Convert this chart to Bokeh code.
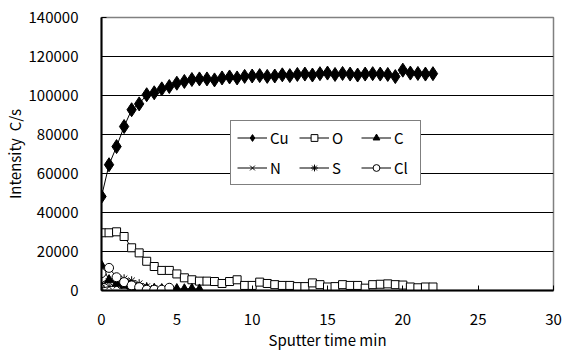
from bokeh.plotting import figure
from bokeh.models import SingleIntervalTicker, NumeralTickFormatter, Legend, LegendItem
from bokeh.embed import file_html
from bokeh.resources import INLINE

# Sputter depth profile: intensity (counts/s) vs. sputter time (min)
time_cu_o = [0, 0.5, 1, 1.5, 2, 2.5, 3, 3.5, 4, 4.5, 5, 5.5, 6, 6.5, 7, 7.5,
             8, 8.5, 9, 9.5, 10, 10.5, 11, 11.5, 12, 12.5, 13, 13.5, 14, 14.5,
             15, 15.5, 16, 16.5, 17, 17.5, 18, 18.5, 19, 19.5, 20, 20.5, 21,
             21.5, 22]
cu = [48200, 64500, 73800, 84100, 92700, 95700, 100400, 101400, 103400, 104600,
      106300, 107200, 108200, 108500, 108500, 108000, 109000, 109500, 109000,
      109800, 110000, 110200, 109800, 110000, 110600, 110200, 110800, 111000,
      110500, 111200, 111500, 110800, 111300, 111000, 110500, 111000, 111200,
      111000, 110800, 109700, 113000, 111500, 111300, 111000, 111200]
o = [29600, 29600, 30100, 27700, 21900, 19300, 15000, 12300, 10300, 10300,
     8500, 6500, 5500, 4800, 4800, 4600, 3600, 4600, 5500, 2600, 2600, 4300,
     3600, 3000, 2600, 2600, 2000, 2000, 3900, 3000, 1800, 2000, 3000, 2600,
     2600, 1200, 3000, 3200, 3400, 3000, 2800, 1800, 1400, 1800, 1800]

time_c = [0, 0.5, 1, 1.5, 2, 2.5, 3, 3.5, 4, 4.5, 5, 5.5, 6, 6.5]
c = [13000, 5500, 3500, 2500, 2000, 1500, 1200, 1000, 900, 800, 900, 800, 1000, 700]

time_ns = [0, 0.5, 1, 1.5, 2, 2.5, 3, 3.5]
n = [1200, 2000, 2500, 2200, 1500, 1000, 600, 400]
s = [3500, 4500, 5000, 6000, 5000, 3500, 2000, 1200]

time_cl = [0, 0.5, 1, 1.5, 2, 2.5, 3, 3.5, 4, 4.5]
cl = [8900, 11600, 6800, 4300, 2600, 1700, 400, 400, 400, 1400]

FONT = "Noto Sans CJK JP"

p = figure(width=564, height=354, x_range=(0, 30), y_range=(0, 140000),
           output_backend="svg", toolbar_location=None,
           min_border_left=101, min_border_right=11,
           min_border_top=17, min_border_bottom=64)
p.background_fill_color = "white"
p.border_fill_color = "white"
p.outline_line_color = "#808080"
p.outline_line_width = 1.5

# grid
p.xgrid.visible = False
p.ygrid.grid_line_color = "black"
p.ygrid.grid_line_width = 1

# axes
p.xaxis.ticker = SingleIntervalTicker(interval=5)
p.yaxis.ticker = SingleIntervalTicker(interval=20000)
p.yaxis.formatter = NumeralTickFormatter(format="0")
for ax in (p.xaxis[0], p.yaxis[0]):
    ax.axis_line_color = "black"
    ax.axis_line_width = 2
    ax.major_tick_line_color = "black"
    ax.major_tick_in = 5
    ax.major_tick_out = 0
    ax.minor_tick_line_color = None
    ax.major_label_text_font = FONT
    ax.major_label_text_font_size = "15px"
    ax.major_label_text_color = "black"
    ax.axis_label_text_font = FONT
    ax.axis_label_text_font_size = "15px"
    ax.axis_label_text_font_style = "normal"
    ax.axis_label_text_color = "black"
p.xaxis.axis_label = "Sputter time min"
p.yaxis.axis_label = "Intensity\u00a0\u00a0C/s"
p.xaxis.major_label_standoff = 19
p.yaxis.major_label_standoff = 19
p.xaxis.axis_label_standoff = 1
p.yaxis.axis_label_standoff = 1

series = [
    ("Cu", time_cu_o, cu, "diamond", "black", 14),
    ("O", time_cu_o, o, "square", "white", 8),
    ("C", time_c, c, "triangle", "black", 9),
    ("N", time_ns, n, "x", "black", 8),
    ("S", time_ns, s, "asterisk", "black", 9),
    ("Cl", time_cl, cl, "circle", "white", 9),
]

entries = {}
for name, xs, ys, marker, fill, size in series:
    ln = p.line(xs, ys, line_color="black", line_width=1)
    sc = p.scatter(xs, ys, marker=marker, size=size, fill_color=fill,
                   line_color="black", line_width=1)
    entries[name] = LegendItem(label=name, renderers=[ln, sc])

# legend fills column by column: rows read Cu O C / N S Cl
legend_order = ["Cu", "N", "O", "S", "C", "Cl"]
legend = Legend(items=[entries[k] for k in legend_order], ncols=3,
                location=(129, 105),
                label_text_font=FONT, label_text_font_size="15px",
                label_text_color="black", glyph_width=30, glyph_height=17,
                label_height=17, label_standoff=3, spacing=9, padding=6,
                margin=0, border_line_color="black", border_line_width=1,
                background_fill_color="white", background_fill_alpha=1)
p.add_layout(legend, "center")

open("out.html", "w").write(file_html(p, INLINE))
